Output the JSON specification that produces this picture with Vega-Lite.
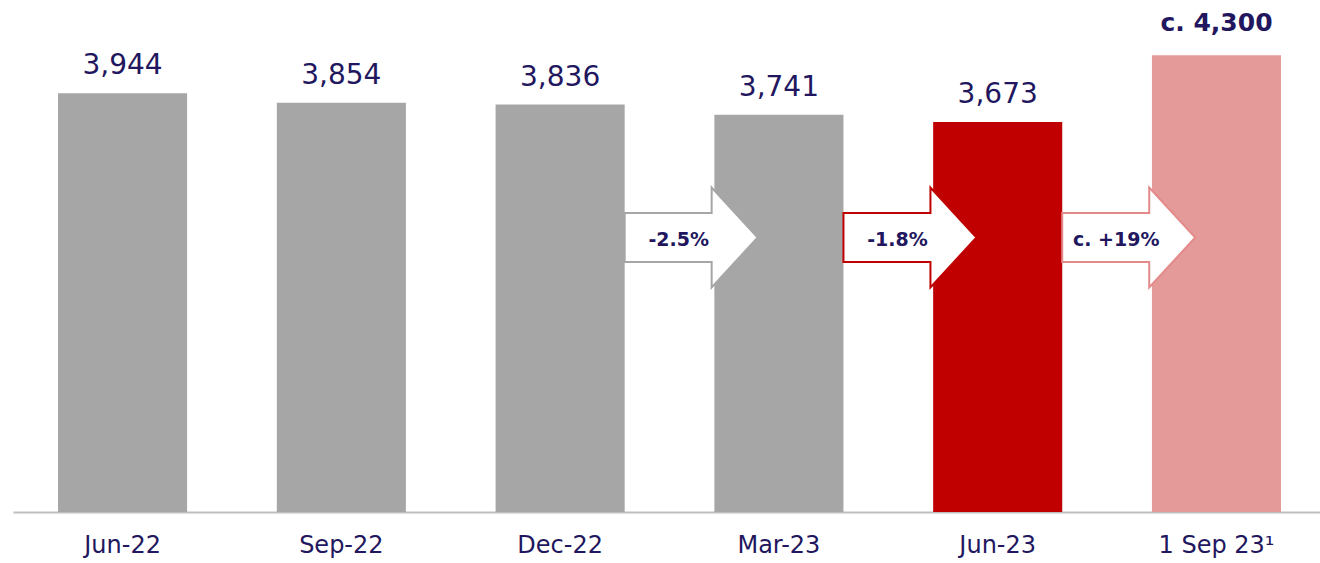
{
  "$schema": "https://vega.github.io/schema/vega-lite/v6.json",
  "width": 1307,
  "height": 512,
  "autosize": "none",
  "padding": {"left": 13, "top": 0, "right": 0, "bottom": 51},
  "background": "white",
  "config": {"view": {"stroke": null}},
  "datasets": {
    "bars": [
      {"period": "Jun-22", "value": 3944, "label": "3,944", "group": "hist"},
      {"period": "Sep-22", "value": 3854, "label": "3,854", "group": "hist"},
      {"period": "Dec-22", "value": 3836, "label": "3,836", "group": "hist"},
      {"period": "Mar-23", "value": 3741, "label": "3,741", "group": "hist"},
      {"period": "Jun-23", "value": 3673, "label": "3,673", "group": "current"},
      {"period": "1 Sep 23¹", "value": 4300, "label": "c. 4,300", "group": "est"}
    ],
    "arrows": [
      {"from": "Dec-22", "change": "-2.5%", "kind": "hist"},
      {"from": "Mar-23", "change": "-1.8%", "kind": "current"},
      {"from": "Jun-23", "change": "c. +19%", "kind": "est"}
    ]
  },
  "encoding": {
    "x": {
      "field": "period",
      "type": "nominal",
      "sort": null,
      "scale": {"type": "band", "domain": ["Jun-22", "Sep-22", "Dec-22", "Mar-23", "Jun-23", "1 Sep 23¹"], "paddingInner": 0.41, "paddingOuter": 0.192, "align": 0.536},
      "axis": {
        "title": null,
        "labelAngle": 0,
        "ticks": false,
        "domain": true,
        "domainColor": "#bfbfbf",
        "domainWidth": 2,
        "labelFont": "DejaVu Sans",
        "labelFontSize": 24,
        "labelColor": "#22175e",
        "labelBaseline": "alphabetic",
        "labelPadding": 40
      }
    }
  },
  "layer": [
    {
      "data": {"name": "bars"},
      "mark": {"type": "bar"},
      "encoding": {
        "y": {"field": "value", "type": "quantitative", "scale": {"domain": [0, 4821], "nice": false, "zero": true}, "axis": null},
        "fill": {"field": "group", "type": "nominal", "scale": {"domain": ["hist", "current", "est"], "range": ["#a6a6a6", "#c00000", "#e59a9a"]}, "legend": null}
      }
    },
    {
      "data": {"name": "bars"},
      "transform": [{"filter": "datum.group != 'est'"}],
      "mark": {"type": "text", "font": "DejaVu Sans", "fontSize": 28, "color": "#22175e", "baseline": "alphabetic", "align": "center", "dy": -19},
      "encoding": {
        "y": {"field": "value", "type": "quantitative"},
        "text": {"field": "label"}
      }
    },
    {
      "data": {"name": "bars"},
      "transform": [{"filter": "datum.group == 'est'"}],
      "mark": {"type": "text", "font": "DejaVu Sans", "fontSize": 25, "fontWeight": "bold", "color": "#22175e", "baseline": "alphabetic", "align": "center", "dy": -24},
      "encoding": {
        "y": {"field": "value", "type": "quantitative"},
        "text": {"field": "label"}
      }
    },
    {
      "data": {"name": "arrows"},
      "mark": {
        "type": "point",
        "shape": "M0,-0.184 L0.654,-0.184 L0.654,-0.376 L1,0 L0.654,0.376 L0.654,0.184 L0,0.184 Z",
        "size": 70756,
        "filled": true,
        "fill": "white",
        "fillOpacity": 1,
        "opacity": 1,
        "strokeWidth": 2
      },
      "encoding": {
        "x": {"field": "from", "type": "nominal", "bandPosition": 1},
        "y": {"datum": 2585},
        "stroke": {"field": "kind", "type": "nominal", "scale": {"domain": ["hist", "current", "est"], "range": ["#a6a6a6", "#c00000", "#e48a8a"]}, "legend": null}
      }
    },
    {
      "data": {"name": "arrows"},
      "mark": {"type": "text", "font": "DejaVu Sans", "fontSize": 19, "fontWeight": "bold", "color": "#22175e", "baseline": "middle", "align": "center", "dx": 54},
      "encoding": {
        "x": {"field": "from", "type": "nominal", "bandPosition": 1},
        "y": {"datum": 2561},
        "text": {"field": "change"}
      }
    }
  ]
}
